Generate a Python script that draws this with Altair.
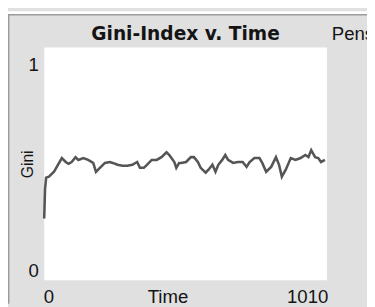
import altair as alt
import pandas as pd

# ---- data ----
time = [0, 3, 7, 17, 35, 45, 63, 77, 87, 98, 112, 122, 140, 157, 175, 185, 199, 217,
        234, 245, 262, 280, 297, 315, 332, 342, 356, 367, 384, 402, 419, 437, 447, 465,
        472, 482, 489, 507, 524, 535, 549, 559, 577, 587, 601, 612, 622, 636, 647, 657,
        675, 692, 709, 723, 734, 751, 769, 779, 793, 811, 828, 839, 849, 863, 881, 898,
        916, 933, 944, 954, 968, 979, 989, 1003]
gini = [0.265, 0.391, 0.441, 0.445, 0.466, 0.487, 0.525, 0.508, 0.500, 0.508, 0.529,
        0.517, 0.525, 0.517, 0.504, 0.466, 0.483, 0.504, 0.508, 0.504, 0.496, 0.492,
        0.492, 0.496, 0.508, 0.483, 0.483, 0.496, 0.517, 0.517, 0.529, 0.550, 0.538,
        0.508, 0.483, 0.504, 0.504, 0.508, 0.529, 0.529, 0.508, 0.483, 0.462, 0.475,
        0.496, 0.466, 0.496, 0.517, 0.538, 0.517, 0.504, 0.508, 0.508, 0.487, 0.508,
        0.525, 0.525, 0.504, 0.466, 0.487, 0.529, 0.496, 0.445, 0.475, 0.525, 0.517,
        0.525, 0.538, 0.529, 0.559, 0.529, 0.525, 0.508, 0.517]
x_ticks = [0, 1010]
y_ticks = [0, 1]
chart_title = "Gini-Index v. Time"
x_title = "Time"
y_title = "Gini"
legend_title = "Pens"

df = pd.DataFrame({"Time": time, "Gini": gini})
one = pd.DataFrame({"label": [legend_title], "title": [chart_title]})

LABEL_FONT = "Liberation Sans"
TXT = "#141414"

line = alt.Chart(df).mark_line(color="#555555", strokeWidth=2.6, strokeJoin="miter").encode(
    x=alt.X(
        "Time:Q",
        scale=alt.Scale(domain=[0, 1010], nice=False, zero=False),
        axis=alt.Axis(
            values=x_ticks, format="d", grid=False, domain=False, ticks=False, tickSize=0,
            labelFont=LABEL_FONT, labelFontSize=19, labelColor=TXT,
            labelFlush=True, labelOffset={"expr": "datum.value == 0 ? -1 : 1"},
            labelBaseline="alphabetic", labelPadding=23,
            title=x_title, titleFont=LABEL_FONT, titleFontSize=19, titleFontWeight="normal",
            titleColor=TXT, titleX=126, titleY=23, titleBaseline="alphabetic",
            titleAlign="center",
        ),
    ),
    y=alt.Y(
        "Gini:Q",
        scale=alt.Scale(domain=[0, 1], nice=False),
        axis=alt.Axis(
            values=y_ticks, format="d", grid=False, domain=False, ticks=False, tickSize=0,
            labelFont=LABEL_FONT, labelFontSize=19, labelColor=TXT,
            labelOffset={"expr": "datum.value == 1 ? 24 : -4"},
            labelBaseline="alphabetic", labelAlign="right", labelPadding=6,
            title=y_title, titleFont=LABEL_FONT, titleFontSize=16, titleFontWeight="normal",
            titleColor=TXT, titleAngle=270, titleX=-12, titleY=119,
            titleBaseline="alphabetic", titleAlign="center",
        ),
    ),
)

white_strip = alt.Chart(one).mark_rule(color="white", strokeWidth=3).encode(
    x=alt.value(-37), x2=alt.value(330), y=alt.value(-35.5)
)
top_line = alt.Chart(one).mark_rule(color="#9a9a9a", strokeWidth=1.5).encode(
    x=alt.value(-37), x2=alt.value(330), y=alt.value(-33.5)
)
left_line = alt.Chart(one).mark_rule(color="#9a9a9a", strokeWidth=1.5).encode(
    x=alt.value(-36.3), y=alt.value(-34), y2=alt.value(262)
)
title = alt.Chart(one).mark_text(
    align="center", baseline="alphabetic", font="DejaVu Sans", fontSize=19,
    fontWeight="bold", color=TXT
).encode(text="title:N", x=alt.value(144.5), y=alt.value(-8))
pens = alt.Chart(one).mark_text(
    align="left", baseline="alphabetic", font=LABEL_FONT, fontSize=19, color=TXT
).encode(text="label:N", x=alt.value(294), y=alt.value(-8))

chart = alt.layer(white_strip, top_line, left_line, line, title, pens).properties(
    width=289,
    height=238,
    autosize=alt.AutoSizeParams(type="none"),
    padding={"left": 37, "top": 37, "right": 41, "bottom": 24},
    background="#e0e0e0",
).configure_view(fill="white", strokeWidth=0)

chart.save("out.html", embed_options={"renderer": "svg", "actions": False})
